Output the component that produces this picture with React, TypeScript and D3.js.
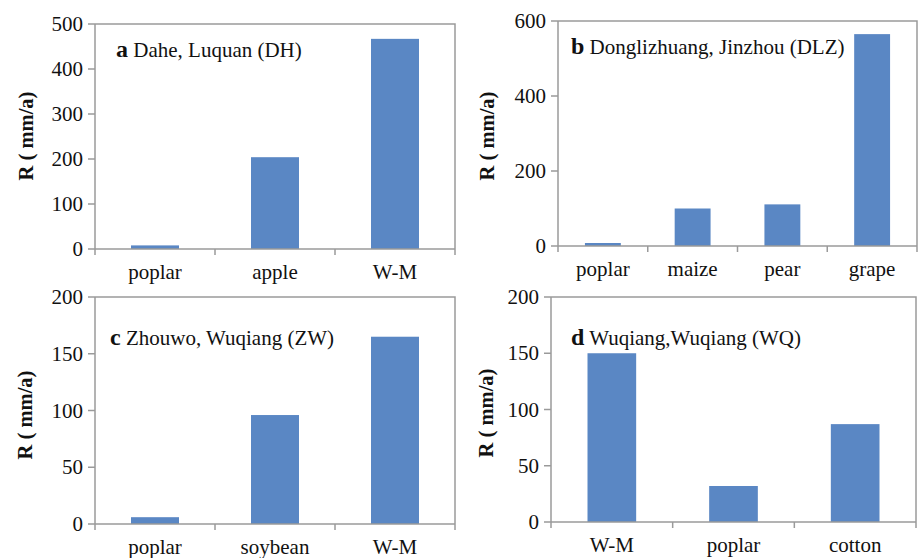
import React from "react";
import * as d3 from "d3";

// values
const catsA = ["poplar", "apple", "W-M"];
const valsA = [8, 204, 467];
const ticksA = [0, 100, 200, 300, 400, 500];

const catsB = ["poplar", "maize", "pear", "grape"];
const valsB = [8, 100, 111, 565];
const ticksB = [0, 200, 400, 600];

const catsC = ["poplar", "soybean", "W-M"];
const valsC = [6, 96, 165];
const ticksC = [0, 50, 100, 150, 200];

const catsD = ["W-M", "poplar", "cotton"];
const valsD = [150, 32, 87];
const ticksD = [0, 50, 100, 150, 200];

const W = 922;
const H = 558;
const FONT = "Liberation Serif";
const BAR = "#5a87c4";
const AXIS = "#9a9a9a";
const INK = "#111";

type PanelDef = {
  cats: string[];
  vals: number[];
  ticks: number[];
  letter: string;
  title: string;
  box: { left: number; right: number; top: number; bottom: number };
  titlePos: [number, number];
  labelPos: [number, number];
};

const panels: PanelDef[] = [
  {
    cats: catsA, vals: valsA, ticks: ticksA, letter: "a", title: "Dahe, Luquan (DH)",
    box: { left: 95, right: 455, top: 24, bottom: 249 },
    titlePos: [116, 57], labelPos: [33, 136],
  },
  {
    cats: catsB, vals: valsB, ticks: ticksB, letter: "b", title: "Donglizhuang, Jinzhou (DLZ)",
    box: { left: 558, right: 917, top: 21, bottom: 246 },
    titlePos: [571, 54], labelPos: [494, 136],
  },
  {
    cats: catsC, vals: valsC, ticks: ticksC, letter: "c", title: "Zhouwo, Wuqiang (ZW)",
    box: { left: 95, right: 455, top: 297, bottom: 524 },
    titlePos: [110, 345], labelPos: [32, 415],
  },
  {
    cats: catsD, vals: valsD, ticks: ticksD, letter: "d", title: "Wuqiang,Wuqiang (WQ)",
    box: { left: 551, right: 916, top: 297, bottom: 522 },
    titlePos: [571, 345], labelPos: [493, 413],
  },
];

const txt = { fontFamily: FONT, fontSize: 21, fill: INK };

const Panel = ({ p }: { p: PanelDef }) => {
  const { left, right, top, bottom } = p.box;
  const x = d3.scaleBand().domain(p.cats).range([left, right]).padding(0);
  const y = d3
    .scaleLinear()
    .domain([0, d3.max(p.ticks) as number])
    .range([bottom, top]);
  const bw = x.bandwidth() * 0.4;
  const edges = p.cats.map((c) => x(c) as number).concat([right]);

  return (
    <g>
      {/* frame top + right */}
      <path d={`M${left},${top}H${right}V${bottom}`} fill="none" stroke={AXIS} strokeWidth={1.5} />

      {p.vals.map((v, i) => (
        <rect
          key={i}
          x={(x(p.cats[i]) as number) + x.bandwidth() / 2 - bw / 2}
          y={y(v)}
          width={bw}
          height={bottom - y(v)}
          fill={BAR}
        />
      ))}

      {/* y axis */}
      <line x1={left} x2={left} y1={top} y2={bottom} stroke={AXIS} strokeWidth={1.5} />
      {p.ticks.map((t) => (
        <g key={t}>
          <line x1={left - 7} x2={left} y1={y(t)} y2={y(t)} stroke={AXIS} strokeWidth={1.5} />
          <text x={left - 12} y={y(t)} dy="0.34em" textAnchor="end" style={txt}>
            {t}
          </text>
        </g>
      ))}

      {/* x axis */}
      <line x1={left} x2={right} y1={bottom} y2={bottom} stroke={AXIS} strokeWidth={1.5} />
      {edges.map((e, i) => (
        <line key={i} x1={e} x2={e} y1={bottom} y2={bottom + 6} stroke={AXIS} strokeWidth={1.5} />
      ))}
      {p.cats.map((c) => (
        <text key={c} x={(x(c) as number) + x.bandwidth() / 2} y={bottom + 30} textAnchor="middle" style={txt}>
          {c}
        </text>
      ))}

      {/* y label */}
      <text
        transform={`translate(${p.labelPos[0]},${p.labelPos[1]}) rotate(-90)`}
        textAnchor="middle"
        style={{ ...txt, fontSize: 20.5, fontWeight: "bold" }}
      >
        R ( mm/a)
      </text>

      {/* panel title */}
      <text x={p.titlePos[0]} y={p.titlePos[1]} style={txt}>
        <tspan style={{ fontWeight: "bold", fontSize: 24 }}>{p.letter}</tspan>
        <tspan>{" " + p.title}</tspan>
      </text>
    </g>
  );
};

const App = () => (
  <div style={{ position: "absolute", left: 0, top: 0 }}>
    <svg width={W} height={H} style={{ display: "block", background: "#fff" }}>
      {panels.map((p) => (
        <Panel key={p.letter} p={p} />
      ))}
    </svg>
  </div>
);

export default App;
